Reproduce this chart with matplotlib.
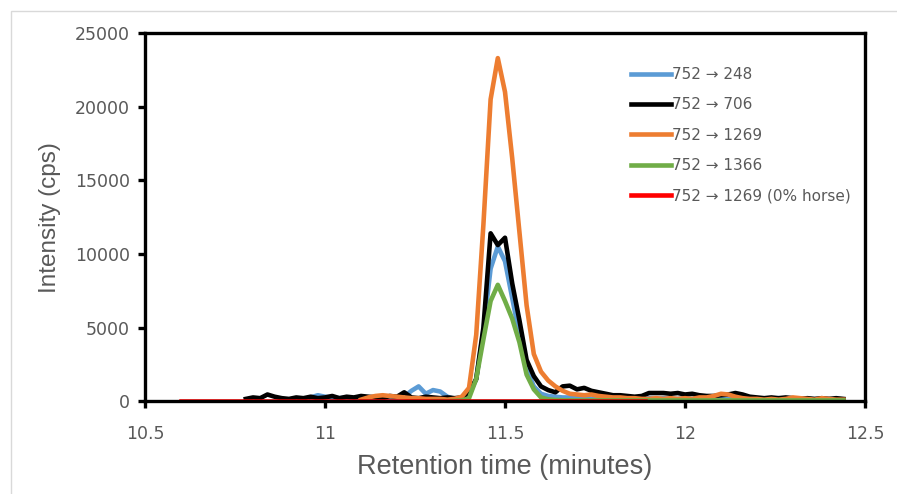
import matplotlib
matplotlib.use('Agg')
import matplotlib.pyplot as plt
from matplotlib.patches import Rectangle
import numpy as np

# sampling grid (min), every trace ends at 12.44
t = np.round(np.arange(10.60, 12.441, 0.02), 2)

# 752 -> 706 (black), starts at 10.78
black = [150, 250, 200, 450, 300, 200, 150, 250, 200, 300,
         200, 250, 350, 200, 300, 250, 350, 300, 250, 200,
         350, 300, 600, 250, 200, 300, 250, 200, 250, 200,
         250, 600, 1500, 5000, 11400, 10600, 11100, 8000, 5500, 2800,
         1700, 1000, 750, 600, 1000, 1050, 800, 900, 700, 600,
         500, 400, 400, 350, 300, 350, 550, 550, 550, 500,
         550, 450, 500, 400, 350, 350, 400, 450, 550, 450,
         300, 250, 200, 250, 200, 250, 200, 150, 200, 150,
         200, 150, 200, 150]

# 752 -> 248 (blue), starts at 10.96
blue = [250, 400, 300, 250, 200, 250, 200, 300, 250, 300,
        250, 200, 250, 300, 700, 1000, 500, 750, 650, 300,
        150, 150, 400, 1500, 4800, 9000, 10500, 9500, 7000, 4500,
        2200, 1000, 500, 350, 300, 250, 250, 200, 200, 150,
        150, 200, 150, 150, 200, 150, 150, 200, 150, 200,
        150, 150, 200, 150, 150, 200, 200, 150, 150, 150,
        200, 150, 100, 150, 150, 200, 150, 100, 150, 150,
        100, 150, 150, 100, 100]

# 752 -> 1269 (orange), starts at 11.10
orange = [100, 250, 350, 400, 350, 300, 250, 200, 200, 150,
          150, 150, 100, 150, 300, 900, 4500, 12000, 20500, 23300,
          21000, 16500, 11500, 6500, 3200, 2000, 1400, 1000, 700, 500,
          450, 400, 450, 350, 300, 250, 250, 200, 200, 150,
          150, 200, 150, 200, 150, 200, 150, 250, 250, 350,
          500, 450, 300, 200, 150, 150, 100, 150, 100, 150,
          250, 200, 150, 100, 200, 150, 100, 100]

# 752 -> 1366 (green), starts at 11.30
green = [0, 0, 0, 20, 50, 200, 1500, 4200, 6800, 7900,
         6800, 5600, 4000, 1800, 800, 250, 120, 80, 60, 50,
         50, 50, 50, 50, 50, 50, 50, 50, 50, 50,
         50, 50, 50, 50, 50, 50, 50, 50, 50, 50,
         50, 50, 50, 50, 50, 50, 50, 50, 50, 50,
         50, 50, 50, 50, 50, 50, 50, 50]

# 752 -> 1269 (0% horse), flat at zero
red_t = [10.60, 11.89]
red = [0, 0]

labels = ['752 \u2192 248', '752 \u2192 706', '752 \u2192 1269',
          '752 \u2192 1366', '752 \u2192 1269 (0% horse)']
colors = ['#5b9bd5', '#000000', '#ed7d31', '#70ad47', '#ff0000']

gray = '#595959'
lw = 3.3

fig = plt.figure(figsize=(8.97, 4.94), dpi=100)
ax = fig.add_axes([0.1617, 0.188, 0.8026, 0.745])

ax.plot(t[-len(blue):], blue, color=colors[0], lw=lw, label=labels[0])
ax.plot(t[-len(black):], black, color=colors[1], lw=lw, label=labels[1])
ax.plot(t[-len(orange):], orange, color=colors[2], lw=lw, label=labels[2])
ax.plot(t[-len(green):], green, color=colors[3], lw=lw, label=labels[3])
ax.plot(red_t, red, color=colors[4], lw=lw, label=labels[4])

ax.set_xlim(10.5, 12.5)
ax.set_ylim(0, 25000)
ax.set_xticks([10.5, 11, 11.5, 12, 12.5])
ax.set_xticklabels(['10.5', '11', '11.5', '12', '12.5'])
ax.set_yticks(range(0, 25001, 5000))

for s in ax.spines.values():
    s.set_linewidth(2.4)
    s.set_color('black')
ax.tick_params(direction='out', length=5, width=2.4, colors='black',
               labelcolor=gray, labelsize=12.5)
ax.tick_params(axis='x', pad=12)
ax.tick_params(axis='y', pad=6)

ax.set_xlabel('Retention time (minutes)', fontsize=19.5, color=gray,
              family='Liberation Sans', labelpad=8)
ax.set_ylabel('Intensity (cps)', fontsize=17.5, color=gray,
              family='Liberation Sans', labelpad=10)

ax.legend(loc='upper right', bbox_to_anchor=(1.0, 0.945), frameon=False,
          fontsize=11, labelcolor=gray, handlelength=2.6, handletextpad=0.1,
          labelspacing=1.0)

# light outer frame of the original figure
fig.patches.append(Rectangle((11 / 897, -0.1), 1.2, 1.1 - 11 / 494,
                             transform=fig.transFigure, fill=False,
                             edgecolor='#d9d9d9', lw=1))

fig.savefig('out.png', dpi=100)
